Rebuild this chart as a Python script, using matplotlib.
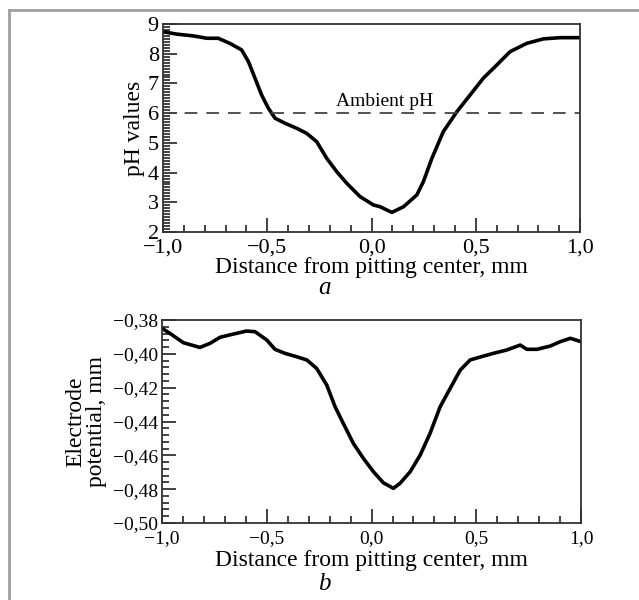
import matplotlib
matplotlib.use("Agg")
import matplotlib.pyplot as plt
from matplotlib.lines import Line2D
from matplotlib.ticker import FixedLocator, FixedFormatter, MultipleLocator

plt.rcParams['font.family'] = ['Liberation Serif', 'DejaVu Serif']

# ---- data: panel a (pH) ----
ph_x = [-1.0, -0.934, -0.855, -0.79, -0.735, -0.68, -0.623, -0.59, -0.559, -0.527, -0.495,
        -0.463, -0.415, -0.359, -0.311, -0.263, -0.215, -0.167, -0.119, -0.055, 0.009,
        0.041, 0.097, 0.153, 0.217, 0.248, 0.289, 0.344, 0.409, 0.472, 0.536, 0.60,
        0.664, 0.744, 0.824, 0.904, 1.0]
ph_y = [8.74, 8.66, 8.60, 8.52, 8.52, 8.35, 8.13, 7.73, 7.18, 6.61, 6.17,
        5.83, 5.66, 5.49, 5.32, 5.04, 4.48, 4.03, 3.64, 3.19, 2.91,
        2.85, 2.66, 2.85, 3.25, 3.69, 4.48, 5.38, 6.05, 6.61, 7.18, 7.62,
        8.07, 8.35, 8.50, 8.54, 8.54]
ambient_ph = 6.0

# ---- data: panel b (electrode potential) ----
ep_x = [-1.0, -0.962, -0.898, -0.819, -0.771, -0.723, -0.660, -0.596, -0.556, -0.50, -0.461,
        -0.413, -0.357, -0.309, -0.262, -0.214, -0.174, -0.135, -0.087, -0.039, 0.009,
        0.056, 0.104, 0.136, 0.184, 0.232, 0.279, 0.327, 0.375, 0.423, 0.470, 0.534,
        0.581, 0.645, 0.709, 0.741, 0.789, 0.852, 0.90, 0.948, 1.0]
ep_y = [-0.3849, -0.3879, -0.3934, -0.3962, -0.3938, -0.3902, -0.3883, -0.3865, -0.3869,
        -0.3918, -0.3973, -0.3997, -0.4017, -0.4036, -0.4086, -0.4184, -0.4313, -0.4411,
        -0.4529, -0.4618, -0.4697, -0.4762, -0.4795, -0.4765, -0.4697, -0.4598, -0.4470,
        -0.4313, -0.4204, -0.4096, -0.4036, -0.4013, -0.3997, -0.3977, -0.3948, -0.3973,
        -0.3973, -0.3954, -0.3928, -0.3908, -0.3928]

# ---- tick labels ----
x_ticks = [-1.0, -0.5, 0.0, 0.5, 1.0]
x_ticklabels = ['\u22121,0', '\u22120,5', '0,0', '0,5', '1,0']
ph_ticks = [2, 3, 4, 5, 6, 7, 8, 9]
ph_ticklabels = ['2', '3', '4', '5', '6', '7', '8', '9']
ep_ticks = [-0.50, -0.48, -0.46, -0.44, -0.42, -0.40, -0.38]
ep_ticklabels = ['\u22120,50', '\u22120,48', '\u22120,46', '\u22120,44', '\u22120,42', '\u22120,40', '\u22120,38']

fig = plt.figure(figsize=(6.39, 6.0), dpi=100)

ax1 = fig.add_axes([0.255, 0.6133, 0.653, 0.3467])
ax2 = fig.add_axes([0.2535, 0.1283, 0.656, 0.3383])

ax1.plot(ph_x, ph_y, color='black', lw=2.6, solid_joinstyle='round', solid_capstyle='round')
ax1.axhline(ambient_ph, color='#444444', lw=1.3, dashes=(7, 5))
ax1.text(-0.17, ambient_ph + 0.12, 'Ambient pH', fontsize=14, ha='left', va='bottom')
ax1.set_xlim(-1, 1)
ax1.set_ylim(2, 9)

ax2.plot(ep_x, ep_y, color='black', lw=2.6, solid_joinstyle='round', solid_capstyle='round')
ax2.set_xlim(-1, 1)
ax2.set_ylim(-0.50, -0.38)

for ax in (ax1, ax2):
    ax.xaxis.set_major_locator(FixedLocator(x_ticks))
    ax.xaxis.set_major_formatter(FixedFormatter(x_ticklabels))
    ax.xaxis.set_minor_locator(MultipleLocator(0.1))
    ax.tick_params(which='both', direction='in', top=False, right=False, width=1.2, color='#222222')
    ax.tick_params(which='major', length=10, pad=3)
    ax.tick_params(which='minor', length=5)
    for s in ax.spines.values():
        s.set_linewidth(1.3)
        s.set_color('#333333')

ax1.yaxis.set_major_locator(FixedLocator(ph_ticks))
ax1.yaxis.set_major_formatter(FixedFormatter(ph_ticklabels))
ax1.yaxis.set_minor_locator(MultipleLocator(0.1))
ax1.tick_params(axis='both', which='major', labelsize=16)
ax1.tick_params(axis='x', which='major', pad=5)
ax1.set_ylabel('pH values', fontsize=17, labelpad=2)
ax1.set_xlabel('Distance from pitting center, mm', fontsize=17, labelpad=-1)

ax2.yaxis.set_major_locator(FixedLocator(ep_ticks))
ax2.yaxis.set_major_formatter(FixedFormatter(ep_ticklabels))
ax2.yaxis.set_minor_locator(MultipleLocator(0.004))
ax2.tick_params(axis='both', which='major', labelsize=14)
ax2.tick_params(axis='x', which='major', pad=5)
ax2.set_ylabel('Electrode\npotential, mm', fontsize=17, labelpad=4, linespacing=0.95)
ax2.set_xlabel('Distance from pitting center, mm', fontsize=17, labelpad=2)

fig.text(0.508, 0.520, 'a', fontsize=18, style='italic', ha='center', va='center')
fig.text(0.508, 0.026, 'b', fontsize=18, style='italic', ha='center', va='center')

# outer frame (left and top)
fig.add_artist(Line2D([9/639, 9/639], [0, 1 - 10/600], transform=fig.transFigure, color='#a0a0a0', lw=2))
fig.add_artist(Line2D([9/639, 1], [1 - 10/600, 1 - 10/600], transform=fig.transFigure, color='#a0a0a0', lw=2))

fig.savefig('out.png', dpi=100)
